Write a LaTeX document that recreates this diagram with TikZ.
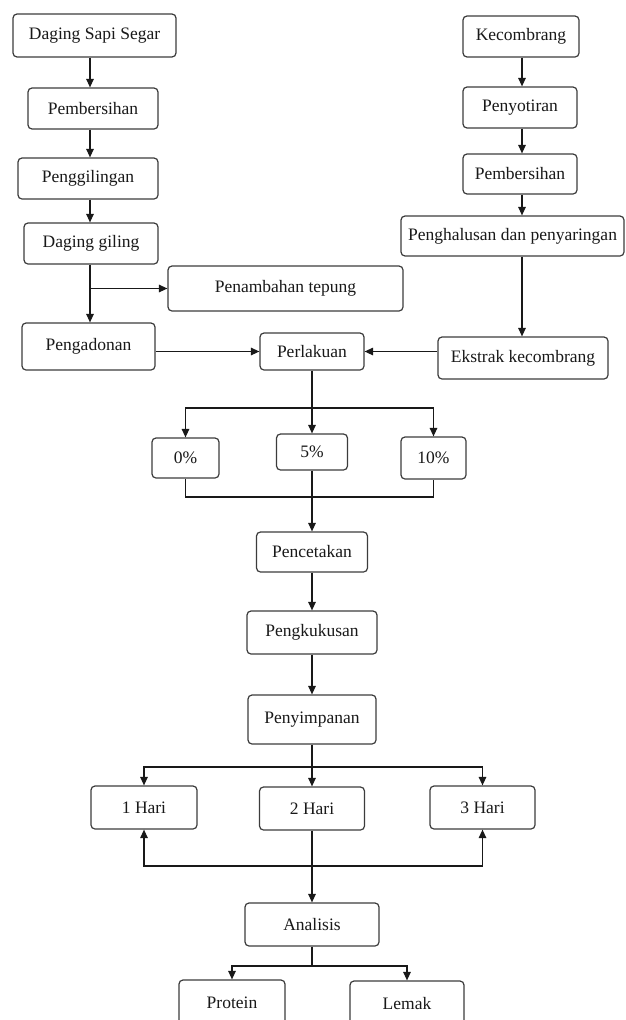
\documentclass[tikz,border=0pt]{standalone}
\usepackage{fontspec}
\setmainfont{Liberation Serif}
\usepackage{tikz}
\usetikzlibrary{arrows.meta, positioning, calc}
\definecolor{boxline}{RGB}{60,60,60}
\definecolor{mydark}{RGB}{25,25,25}
\tikzset{
  block/.style={rectangle, draw=boxline, rounded corners=4pt,
    line width=1.2pt, inner sep=0pt, align=center,
    font=\fontsize{17.5}{20}\selectfont, text=mydark},
  arrow/.style={-{Triangle[length=8.5pt,width=7.5pt]}, line width=1.2pt, color=mydark},
  line/.style={line width=1.2pt, color=mydark}
}

\begin{document}
\begin{tikzpicture}[x=1pt, y=-1pt]
  \useasboundingbox (0,0) rectangle (625,1020);
  \clip (0,0) rectangle (625,1020);
  \fill[white] (0,0) rectangle (625,1020);
  % Columns
  \coordinate (lc) at (90,0);
  \coordinate (rc) at (522,0);
  % Left column: daging
  \node[block, minimum width=163pt, minimum height=43pt] (dss) at (94.5,35.5) {Daging Sapi Segar};
  \node[block, minimum width=130pt, minimum height=41pt] (pb1) at (93,108.5) {Pembersihan};
  \node[block, minimum width=140pt, minimum height=41pt] (pgl) at (88,178.5) {Penggilingan};
  \node[block, minimum width=134pt, minimum height=41pt] (dg) at (91,243.5) {Daging giling};
  \node[block, minimum width=235pt, minimum height=45pt] (pt) at (285.5,288.5) {Penambahan tepung};
  \node[block, minimum width=133pt, minimum height=47pt] (pgd) at (88.5,346.5) {Pengadonan};
  % Right column: kecombrang
  \node[block, minimum width=116pt, minimum height=41pt] (kec) at (521,36.5) {Kecombrang};
  \node[block, minimum width=114pt, minimum height=41pt] (pny) at (520,107.5) {Penyotiran};
  \node[block, minimum width=114pt, minimum height=40pt] (pb2) at (520,174) {Pembersihan};
  \node[block, minimum width=223pt, minimum height=40pt] (phs) at (512.5,236) {Penghalusan dan penyaringan};
  \node[block, minimum width=170pt, minimum height=42pt] (ekc) at (523,358) {Ekstrak kecombrang};
  % Middle column
  \node[block, minimum width=104pt, minimum height=37pt] (prl) at (312,351.5) {Perlakuan};
  \node[block, minimum width=67pt, minimum height=40pt] (p0) at (185.5,458) {0\%};
  \node[block, minimum width=71pt, minimum height=36pt] (p5) at (312,452) {5\%};
  \node[block, minimum width=65pt, minimum height=42pt] (p10) at (433.5,458) {10\%};
  \node[block, minimum width=111pt, minimum height=40pt] (pct) at (312,552) {Pencetakan};
  \node[block, minimum width=130pt, minimum height=43pt] (pkk) at (312,632.5) {Pengkukusan};
  \node[block, minimum width=128pt, minimum height=49pt] (psp) at (312,719.5) {Penyimpanan};
  \node[block, minimum width=106pt, minimum height=43pt] (h1) at (144,807.5) {1 Hari};
  \node[block, minimum width=105pt, minimum height=43pt] (h2) at (312,808.5) {2 Hari};
  \node[block, minimum width=105pt, minimum height=43pt] (h3) at (482.5,807.5) {3 Hari};
  \node[block, minimum width=134pt, minimum height=43pt] (ana) at (312,924.5) {Analisis};
  \node[block, minimum width=106pt, minimum height=45pt] (prt) at (232,1002.5) {Protein};
  \node[block, minimum width=114pt, minimum height=45pt] (lmk) at (407,1003.5) {Lemak};
  % Branch points
  \coordinate (b1) at (312,408);
  \coordinate (b2) at (312,497);
  \coordinate (b3) at (312,767);
  \coordinate (b4) at (312,866);
  \coordinate (b5) at (312,966);
  % Arrows left column
  \draw[arrow] (dss.south -| lc) -- (pb1.north -| lc);
  \draw[arrow] (pb1.south -| lc) -- (pgl.north -| lc);
  \draw[arrow] (pgl.south -| lc) -- (dg.north -| lc);
  \draw[arrow] (dg.south -| lc) -- (pgd.north -| lc);
  \draw[arrow] (lc |- pt.west) -- (pt.west);
  \draw[arrow] (prl.west -| pgd.east) -- (prl.west);
  % Arrows right column
  \draw[arrow] (kec.south -| rc) -- (pny.north -| rc);
  \draw[arrow] (pny.south -| rc) -- (pb2.north -| rc);
  \draw[arrow] (pb2.south -| rc) -- (phs.north -| rc);
  \draw[arrow] (phs.south -| rc) -- (ekc.north -| rc);
  \draw[arrow] (prl.east -| ekc.west) -- (prl.east);
  % Perlakuan
  \draw[line] (prl.south) -- (b1);
  \draw[arrow] (b1) -- (p5.north);
  \draw[arrow] (b1) -| (p0.north);
  \draw[arrow] (b1) -| (p10.north);
  \draw[line] (p0.south) |- (b2) -| (p10.south);
  \draw[arrow] (p5.south) -- (pct.north);
  \draw[arrow] (pct.south) -- (pkk.north);
  \draw[arrow] (pkk.south) -- (psp.north);
  % Penyimpanan
  \draw[line] (psp.south) -- (b3);
  \draw[arrow] (b3) -- (h2.north);
  \draw[arrow] (b3) -| (h1.north);
  \draw[arrow] (b3) -| (h3.north);
  \draw[arrow] (b4) -| (h1.south);
  \draw[arrow] (b4) -| (h3.south);
  \draw[arrow] (h2.south) -- (ana.north);
  % Analisis
  \draw[line] (ana.south) -- (b5);
  \draw[arrow] (b5) -| (prt.north);
  \draw[arrow] (b5) -| (lmk.north);
\end{tikzpicture}
\end{document}
